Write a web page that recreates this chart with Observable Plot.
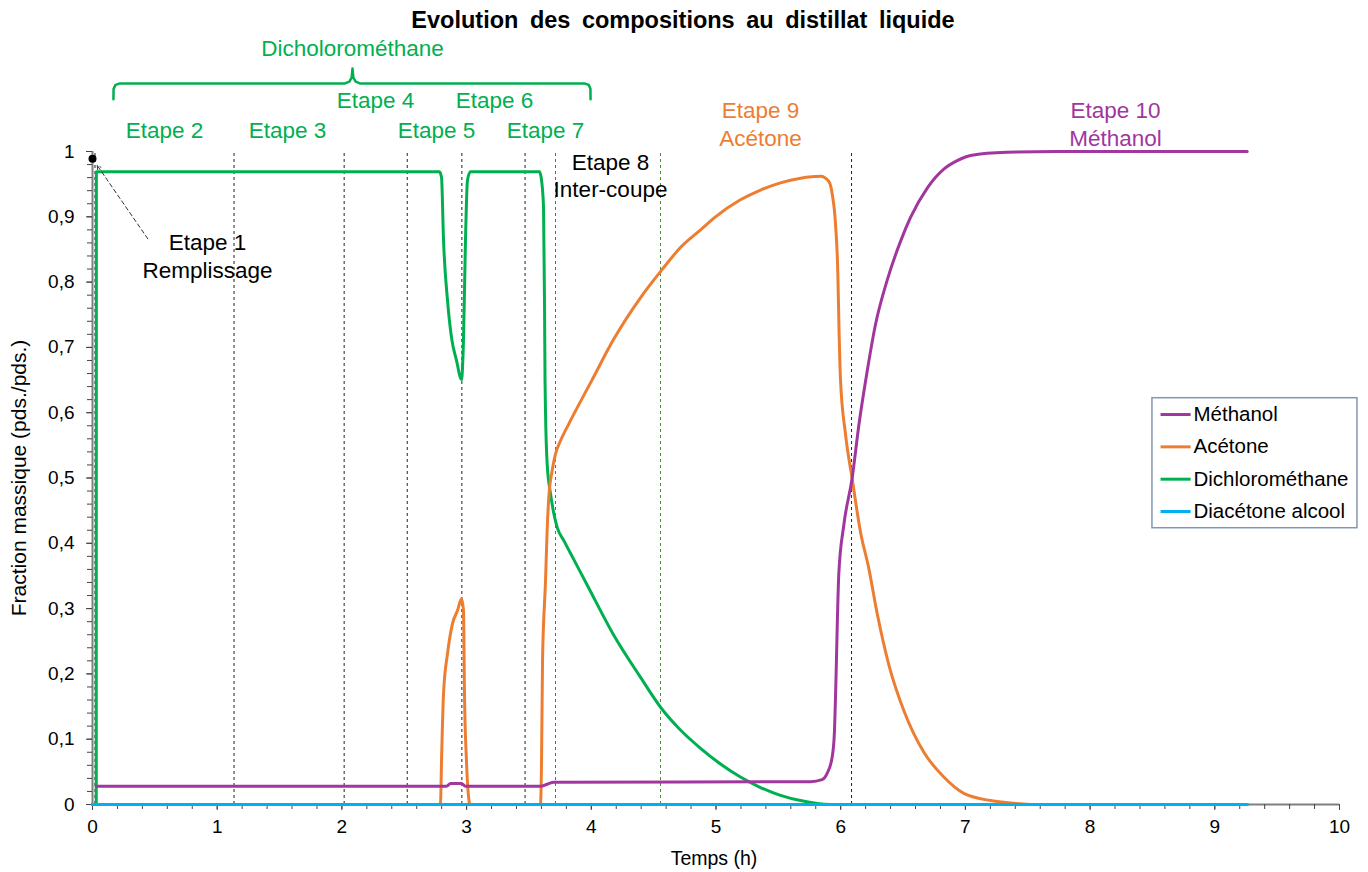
<!DOCTYPE html>
<html>
<head>
<meta charset="utf-8">
<script src="https://cdn.jsdelivr.net/npm/d3@7"></script>
<script src="https://cdn.jsdelivr.net/npm/@observablehq/plot@0.6"></script>
<style>
  html, body { margin: 0; padding: 0; background: #fff; }
  #chart { width: 1368px; height: 872px; }
</style>
</head>
<body>
<div id="chart"></div>
<script>
// ---- Data (time in hours, mass fraction) ----
const methanol = [
  [0.03,0.028],[2.839,0.028],[2.871,0.032],[2.959,0.032],[2.991,0.028],[3.593,0.028],
  [3.646,0.031],[3.699,0.034],[5.758,0.035],[5.85,0.038],[5.892,0.048],[5.932,0.073],
  [5.950,0.112],[5.958,0.162],[5.985,0.354],[6.025,0.428],[6.092,0.500],[6.145,0.580],
  [6.212,0.663],[6.279,0.735],[6.373,0.803],[6.479,0.862],[6.560,0.899],[6.694,0.944],
  [6.827,0.973],[6.934,0.986],[7.041,0.994],[7.33,0.999],[7.73,1.0],[9.26,1.0]
];
const acetone = [
  [0,0],[2.775,0],[2.791,0.002],[2.799,0.067],[2.815,0.170],[2.847,0.231],[2.887,0.277],
  [2.927,0.297],[2.959,0.315],[2.975,0.297],[2.983,0.170],[2.999,0.067],[3.023,0.002],
  [3.027,0],[3.585,0],[3.593,0.002],[3.601,0.067],[3.609,0.221],[3.633,0.343],[3.646,0.420],
  [3.659,0.470],[3.686,0.511],[3.713,0.537],[3.753,0.557],[3.820,0.583],[3.913,0.617],
  [4.0,0.648],[4.178,0.712],[4.394,0.776],[4.563,0.818],[4.715,0.853],[4.876,0.880],[4.996,0.900],
  [5.196,0.926],[5.357,0.941],[5.517,0.952],[5.678,0.959],[5.838,0.962],[5.905,0.954],
  [5.932,0.935],[5.958,0.890],[5.977,0.813],[5.985,0.741],[5.998,0.652],[6.038,0.568],
  [6.092,0.499],[6.159,0.417],[6.225,0.362],[6.293,0.292],[6.386,0.214],[6.506,0.144],
  [6.667,0.080],[6.827,0.042],[6.987,0.017],[7.201,0.006],[7.442,0.001],[7.52,0],[9.26,0]
];
const dichloromethane = [
  [0,0],[0.03,0],[0.031,0.969],[2.783,0.969],[2.799,0.960],[2.815,0.864],[2.847,0.772],
  [2.879,0.715],[2.919,0.680],[2.959,0.651],[2.975,0.711],[2.991,0.864],[3.007,0.956],
  [3.031,0.969],[3.585,0.969],[3.601,0.956],[3.617,0.914],[3.625,0.761],[3.629,0.649],
  [3.633,0.599],[3.646,0.522],[3.673,0.476],[3.699,0.446],[3.727,0.424],[3.780,0.404],
  [3.860,0.375],[3.970,0.335],[4.178,0.260],[4.394,0.195],[4.563,0.147],
  [4.715,0.114],[4.876,0.086],[5.036,0.062],[5.196,0.042],[5.357,0.026],[5.517,0.014],
  [5.678,0.006],[5.918,0],[9.26,0]
];
const diacetoneAlcool = [[0,0],[9.26,0]];

const seriesNames = ["Méthanol", "Acétone", "Dichlorométhane", "Diacétone alcool"];
const seriesColors = ["#a1369f", "#ed7d31", "#00b050", "#00b0f0"];

// Stage boundaries (h)
const stageBounds = [0.02, 1.135, 2.018, 2.524, 2.962, 3.469, 6.087];
const interCutStart = [3.713];
const interCutEnd = [4.555];
const fillingPoint = [[0, 0.989]];

// Tick labels
const xTicks = [0,1,2,3,4,5,6,7,8,9,10];
const xTickLabels = ["0","1","2","3","4","5","6","7","8","9","10"];
const yTicks = [0,0.1,0.2,0.3,0.4,0.5,0.6,0.7,0.8,0.9,1];
const yTickLabels = ["0","0,1","0,2","0,3","0,4","0,5","0,6","0,7","0,8","0,9","1"];
const xMinor = d3.range(0, 51).map(i => i / 5);
const yMinor = d3.range(0, 51).map(i => i / 50);

// ---- Build table ----
const allSeries = [methanol, acetone, dichloromethane, diacetoneAlcool];
const rows = [];
allSeries.forEach((s, k) => s.forEach(([t, v]) => rows.push({t, v, name: seriesNames[k]})));
const byName = name => rows.filter(r => r.name === name);

const font = "'Liberation Sans', Arial, sans-serif";
const GREEN = "#00b050", ORANGE = "#ed7d31", PURPLE = "#a1369f";

// annotation helpers (positions in data space)
const bracket = [
  [0.168,1.080],[0.169,1.096],[0.185,1.102],[0.215,1.104],[2.02,1.104],[2.06,1.107],[2.078,1.113],[2.085,1.127],
  [2.092,1.113],[2.11,1.107],[2.15,1.104],[3.95,1.104],[3.98,1.102],[3.993,1.096],[3.994,1.080]
];
const labels = [
  {x:2.085, y:1.1577, text:"Dicholorométhane", c:GREEN},
  {x:2.269, y:1.0781, text:"Etape 4", c:GREEN},
  {x:3.224, y:1.0781, text:"Etape 6", c:GREEN},
  {x:0.577, y:1.0322, text:"Etape 2", c:GREEN},
  {x:1.564, y:1.0322, text:"Etape 3", c:GREEN},
  {x:2.759, y:1.0322, text:"Etape 5", c:GREEN},
  {x:3.633, y:1.0322, text:"Etape 7", c:GREEN},
  {x:4.154, y:0.9832, text:"Etape 8", c:"#000"},
  {x:4.154, y:0.9418, text:"Inter-coupe", c:"#000"},
  {x:5.357, y:1.0620, text:"Etape 9", c:ORANGE},
  {x:5.357, y:1.0200, text:"Acétone", c:ORANGE},
  {x:8.204, y:1.0620, text:"Etape 10", c:PURPLE},
  {x:8.204, y:1.0200, text:"Méthanol", c:PURPLE},
  {x:0.922, y:0.8606, text:"Etape 1", c:"#000"},
  {x:0.922, y:0.8178, text:"Remplissage", c:"#000"}
];
const legendRows = seriesNames.map((n, i) => ({name: n, color: seriesColors[i], y: 0.5972 - i * 0.0495}));

const chart = Plot.plot({
  width: 1368,
  height: 872,
  marginLeft: 92,
  marginRight: 29,
  marginTop: 151,
  marginBottom: 68,
  x: {domain: [0, 10], axis: null},
  y: {domain: [0, 1], axis: null},
  style: {fontFamily: font, fontSize: "19px", background: "#fff", overflow: "visible", color: "#000"},
  marks: [
    // stage boundaries
    Plot.ruleX(stageBounds, {y1: 0, y2: 1, stroke: "#222", strokeWidth: 1, strokeDasharray: "3,3"}),
    Plot.ruleX(interCutStart, {y1: 0, y2: 1, stroke: "#8e4a8e", strokeWidth: 1, strokeDasharray: "3,3"}),
    Plot.ruleX(interCutEnd, {y1: 0, y2: 1, stroke: "#4f8a3a", strokeWidth: 1, strokeDasharray: "3,3"}),
    // axes lines
    Plot.ruleY([0], {stroke: "#7f7f7f", strokeWidth: 2}),
    Plot.ruleX([0], {stroke: "#7f7f7f", strokeWidth: 2}),
    // minor ticks
    Plot.axisX({ticks: xMinor, tickSize: 5, tickFormat: () => "", stroke: "#444"}),
    Plot.axisY({ticks: yMinor, tickSize: 5, tickFormat: () => "", stroke: "#444"}),
    // major ticks + labels
    Plot.axisX({ticks: xTicks, tickSize: 6, tickPadding: 9, tickFormat: d => xTickLabels[xTicks.indexOf(d)], fontSize: 19, stroke: "#444"}),
    Plot.axisY({ticks: yTicks, tickSize: 6, tickPadding: 12, tickFormat: d => yTickLabels[yTicks.indexOf(d)], fontSize: 19, stroke: "#444"}),
    // series
    Plot.line(byName("Dichlorométhane"), {x: "t", y: "v", stroke: GREEN, strokeWidth: 3, curve: "monotone-x"}),
    Plot.line(byName("Acétone"), {x: "t", y: "v", stroke: ORANGE, strokeWidth: 3, curve: "monotone-x"}),
    Plot.line(byName("Méthanol"), {x: "t", y: "v", stroke: PURPLE, strokeWidth: 3, curve: "monotone-x"}),
    Plot.line(byName("Diacétone alcool"), {x: "t", y: "v", stroke: "#00b0f0", strokeWidth: 3}),
    // filling annotation
    Plot.dot(fillingPoint, {x: d => d[0], y: d => d[1], r: 4, fill: "#000"}),
    Plot.arrow([0], {x1: 0.4435, y1: 0.8663, x2: 0.038, y2: 0.9786, stroke: "#333", strokeWidth: 1, strokeDasharray: "4,3", headLength: 6}),
    // bracket
    Plot.line(bracket, {x: d => d[0], y: d => d[1], stroke: GREEN, strokeWidth: 2.5, curve: "linear"}),
    // labels
    Plot.text(labels, {x: "x", y: "y", text: "text", fill: d => d.c, fontSize: 22.5, textAnchor: "middle"}),
    // titles
    Plot.text(["Evolution des compositions au distillat liquide"], {frameAnchor: "top", dy: -131, dx: -33, lineAnchor: "middle", textAnchor: "middle", fontWeight: "bold", fontSize: 23.5, fill: "#000"}),
    Plot.text(["Temps (h)"], {frameAnchor: "bottom", dy: 54, dx: -2, lineAnchor: "middle", textAnchor: "middle", fontSize: 19.5, fill: "#000"}),
    Plot.text(["Fraction massique (pds./pds.)"], {frameAnchor: "left", dx: -73, rotate: -90, lineAnchor: "middle", textAnchor: "middle", fontSize: 21, fill: "#000"}),
    // legend
    Plot.rect([0], {x1: 8.500, x2: 10.144, y1: 0.4231, y2: 0.6222, fill: "#fff", stroke: "#8497b0", strokeWidth: 1.5}),
    Plot.link(legendRows, {x1: 8.565, x2: 8.806, y1: "y", y2: "y", stroke: "color", strokeWidth: 3}),
    Plot.text(legendRows, {x: 8.829, y: "y", text: "name", textAnchor: "start", fontSize: 20.5, fill: "#000"})
  ]
});

d3.select(chart).selectAll("text").filter(function() { return this.textContent === "Evolution des compositions au distillat liquide"; })
  .attr("word-spacing", "5px");
document.getElementById("chart").appendChild(chart);
</script>
</body>
</html>
